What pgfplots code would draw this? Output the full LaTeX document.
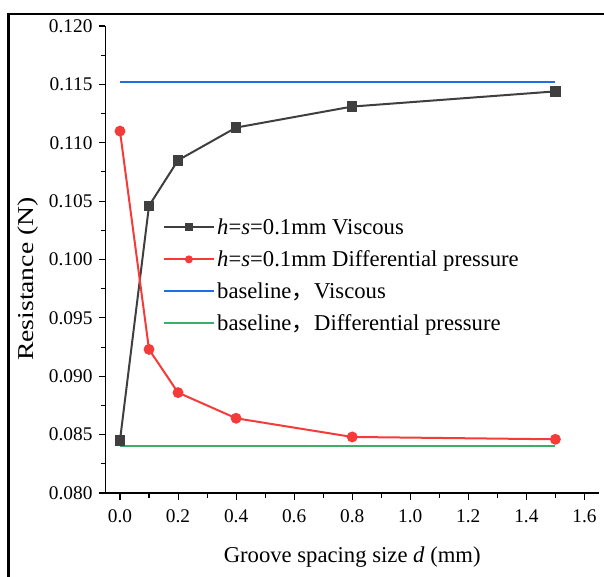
\documentclass[border=0pt]{standalone}
\usepackage{graphicx}
\usepackage{pgfplots}
\pgfplotsset{compat=1.18}
\usepackage{fontspec}
\setmainfont{Liberation Serif}
\newfontfamily\cjk{Noto Sans CJK SC}

\definecolor{seriesgray}{HTML}{3F3F3F}
\definecolor{seriesred}{HTML}{F53A3A}
\definecolor{baseblue}{HTML}{1F6FE0}
\definecolor{basegreen}{HTML}{3CAE6A}

\begin{document}
\begin{tikzpicture}
\begin{axis}[
  at={(0pt,0pt)}, anchor=south west,
  scale only axis, width=370.1pt, height=350.25pt,
  set layers,
  axis lines=left,
  axis line style={-, line width=0.8pt},
  xmin=-0.05, xmax=1.65, ymin=0.08, ymax=0.12,
  xtick={0,0.2,0.4,0.6,0.8,1.0,1.2,1.4,1.6},
  ytick={0.080,0.085,0.090,0.095,0.100,0.105,0.110,0.115,0.120},
  minor x tick num=1, minor y tick num=1,
  tick align=outside,
  major tick length=5.2pt, minor tick length=3.5pt,
  tick style={line width=0.8pt, black},
  scaled y ticks=false,
  /pgf/number format/assume math mode=true,
  ticklabel style={font=\fontsize{14.5}{16}\selectfont},
  xticklabel={\pgfmathprintnumber[fixed,fixed zerofill,precision=1]{\tick}},
  yticklabel={\pgfmathprintnumber[fixed,fixed zerofill,precision=3]{\tick}},
  xticklabel style={yshift=-3.5pt},
  yticklabel style={xshift=-1pt},
  xlabel={Groove spacing size \textit{d} (mm)},
  xlabel style={font=\fontsize{17}{20}\selectfont, at={(axis description cs:0.5,-0.148)}, anchor=base},
  ylabel={\scalebox{1.22}[1]{Resistance (N)}},
  ylabel style={font=\fontsize{17}{20}\selectfont, at={(axis description cs:-0.156,0.458)}, anchor=center},
  legend style={at={(axis description cs:0.1165,0.594)}, anchor=north west,
    draw=none, fill=none, font=\fontsize{17}{20}\selectfont, row sep=6.6pt,
    inner sep=0pt},
  legend cell align=left,
  legend image code/.code={\draw[mark repeat=2,mark phase=2,mark size=2.2pt]
    plot coordinates {(0pt,0pt) (18.5pt,0pt) (37pt,0pt)};},
]
\addplot[seriesgray, line width=1.5pt, mark=square*, mark size=3.2pt,
  mark options={solid, fill=seriesgray}] coordinates {
  (0.0,0.0845) (0.1,0.1046) (0.2,0.1085) (0.4,0.1113) (0.8,0.1131) (1.5,0.1144)
};
\addlegendentry{\textit{h}=\textit{s}=0.1mm Viscous}
\addplot[seriesred, line width=1.5pt, mark=*, mark size=3.3pt,
  mark options={solid, fill=seriesred}] coordinates {
  (0.0,0.1110) (0.1,0.0923) (0.2,0.0886) (0.4,0.0864) (0.8,0.0848) (1.5,0.0846)
};
\addlegendentry{\textit{h}=\textit{s}=0.1mm Differential pressure}
\addplot[baseblue, line width=1.5pt, on layer=axis background] coordinates {
  (0.0,0.1152) (1.5,0.1152)
};
\addlegendentry{baseline{\cjk ，}Viscous}
\addplot[basegreen, line width=1.5pt, on layer=axis background] coordinates {
  (0.0,0.0840) (1.5,0.0840)
};
\addlegendentry{baseline{\cjk ，}Differential pressure}
\end{axis}
% outer frame, running off the right and bottom edges
\draw[line width=2.2pt] (400pt,359.25pt) -| (-72.75pt,-90pt);
\pgfresetboundingbox
\useasboundingbox (-79.1pt,-63pt) rectangle (373.9pt,369.75pt);
\end{tikzpicture}
\end{document}
